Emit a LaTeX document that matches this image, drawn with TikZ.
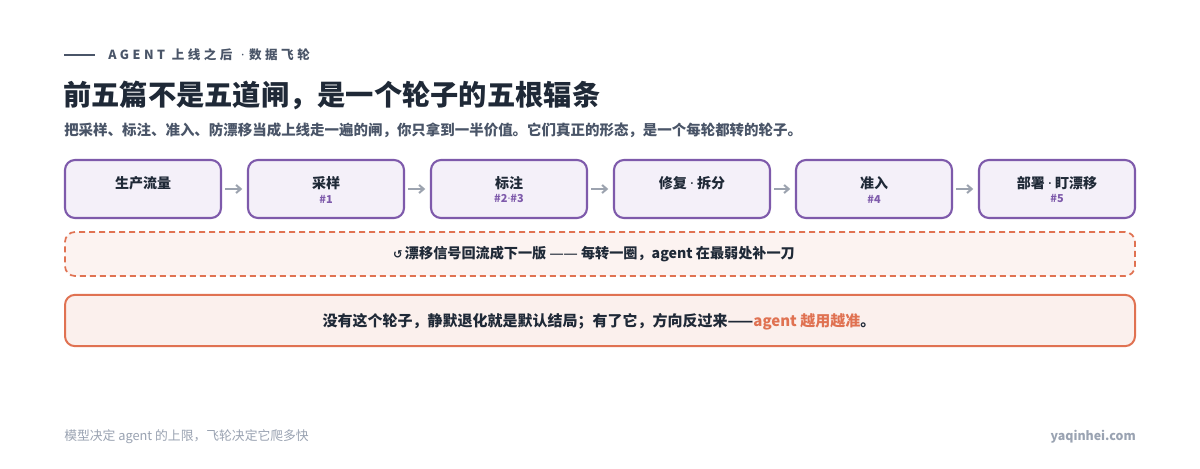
\documentclass[tikz,border=0pt]{standalone}
\usepackage{fontspec}
\setmainfont{Noto Sans CJK SC}
\newfontfamily\symfont{DejaVu Sans}
\newfontfamily\latfont{Noto Sans}
\newcommand{\mdot}{{\latfont\bfseries ·}}
\usetikzlibrary{arrows.meta}
\definecolor{ink}{HTML}{1F2937}
\definecolor{subink}{HTML}{4A5568}
\definecolor{purp}{HTML}{7E5AAB}
\definecolor{purpfill}{HTML}{F4F0F9}
\definecolor{orng}{HTML}{E07252}
\definecolor{orngfill}{HTML}{FBF0ED}
\definecolor{orngfill2}{HTML}{FCF3F1}
\definecolor{arrgray}{HTML}{9CA3AF}
\definecolor{foot}{HTML}{9AA3B2}
\tikzset{
  stepbox/.style={draw=purp, line width=1.6pt, fill=purpfill, rounded corners=7.5pt, minimum width=117pt, minimum height=43.5pt, inner sep=0pt},
  ttl/.style={inner sep=0pt, text=ink, font=\fontsize{10.5}{12}\selectfont\bfseries},
  num/.style={inner sep=0pt, text=purp, font=\fontsize{8.2}{10}\selectfont\bfseries},
  arr/.style={draw=arrgray, line width=1.5pt, -{Straight Barb[length=3.5pt,width=6pt]}, shorten <=2.5pt, shorten >=3.5pt},
}
\begin{document}
\begin{tikzpicture}[x=0.75pt,y=-0.75pt]
\useasboundingbox[fill=white] (0,0) rectangle (1200,468);
% header
\coordinate (hl1) at (64,55);
\coordinate (hl2) at (95,55);
\draw[subink, line width=1.2pt] (hl1) -- (hl2);
\node[anchor=west, inner sep=0pt, text=subink, font=\fontsize{9.4}{11}\selectfont\bfseries\addfontfeature{LetterSpace=28}] (kicker) at (108,55) {\mbox{AGENT}\hspace*{5pt}\mbox{上线之后}\hspace*{6.5pt}\mbox{\latfont\bfseries ·}\hspace*{3.5pt}\mbox{数据飞轮}};
\node[anchor=west, inner sep=0pt, text=ink, font=\fontsize{21.2}{25}\selectfont\bfseries] (title) at (63,95) {前五篇不是五道闸，是一个轮子的五根辐条};
\node[anchor=west, inner sep=0pt, text=subink, font=\fontsize{10.85}{13}\selectfont\bfseries] (subtitle) at (64,130) {把采样、标注、准入、防漂移当成上线走一遍的闸，你只拿到一半价值。它们真正的形态，是一个每轮都转的轮子。};
% boxes
\node[stepbox] (b1) at (143,189) {};
\node[stepbox] (b2) at (326,189) {};
\node[stepbox] (b3) at (509,189) {};
\node[stepbox] (b4) at (692,189) {};
\node[stepbox] (b5) at (874,189) {};
\node[stepbox] (b6) at (1057,189) {};
\node[ttl] (t1) at (143,183) {生产流量};
\node[ttl] (t2) at (326,183) {采样};
\node[num] (n2) at (326,199) {\#1};
\node[ttl] (t3) at (509,183) {标注};
\node[num] (n3) at (509,199) {\#2\mdot\#3};
\node[ttl] (t4) at (692,183) {修复 \mdot{} 拆分};
\node[ttl] (t5) at (874,183) {准入};
\node[num] (n5) at (874,199) {\#4};
\node[ttl] (t6) at (1057,183) {部署 \mdot{} 盯漂移};
\node[num] (n6) at (1057,199) {\#5};
\draw[arr] (b1) -- (b2);
\draw[arr] (b2) -- (b3);
\draw[arr] (b3) -- (b4);
\draw[arr] (b4) -- (b5);
\draw[arr] (b5) -- (b6);
% dashed feedback box
\node[draw=orng, dashed, dash pattern=on 4.5pt off 3pt, line width=1.3pt, fill=orngfill2, rounded corners=7.5pt, minimum width=802.5pt, minimum height=33pt, inner sep=0pt] (loop) at (600,254) {};
\node[inner sep=0pt, text=ink, font=\fontsize{10.6}{12}\selectfont\bfseries] (looptext) at (594,254) {{\symfont\fontsize{8.5}{10}\selectfont ↺}\,漂移信号回流成下一版 {\latfont\bfseries ——} 每转一圈，agent 在最弱处补一刀};
% conclusion box
\node[draw=orng, line width=1.5pt, fill=orngfill, rounded corners=7.5pt, minimum width=802.5pt, minimum height=38.5pt, inner sep=0pt] (concl) at (600,320.5) {};
\node[inner sep=0pt, text=ink, font=\fontsize{11.25}{13}\selectfont\bfseries] (concltext) at (599,322) {没有这个轮子，静默退化就是默认结局；有了它，方向反过来——\textcolor{orng}{agent 越用越准}。};
% footer
\node[anchor=west, inner sep=0pt, text=foot, font=\fontsize{9.6}{11}\selectfont] (footl) at (64,437) {模型决定 agent 的上限，飞轮决定它爬多快};
\node[anchor=east, inner sep=0pt, text=foot, font=\fontsize{9.3}{11}\selectfont\bfseries] (footr) at (1136,437) {yaqinhei.com};
\end{tikzpicture}
\end{document}
